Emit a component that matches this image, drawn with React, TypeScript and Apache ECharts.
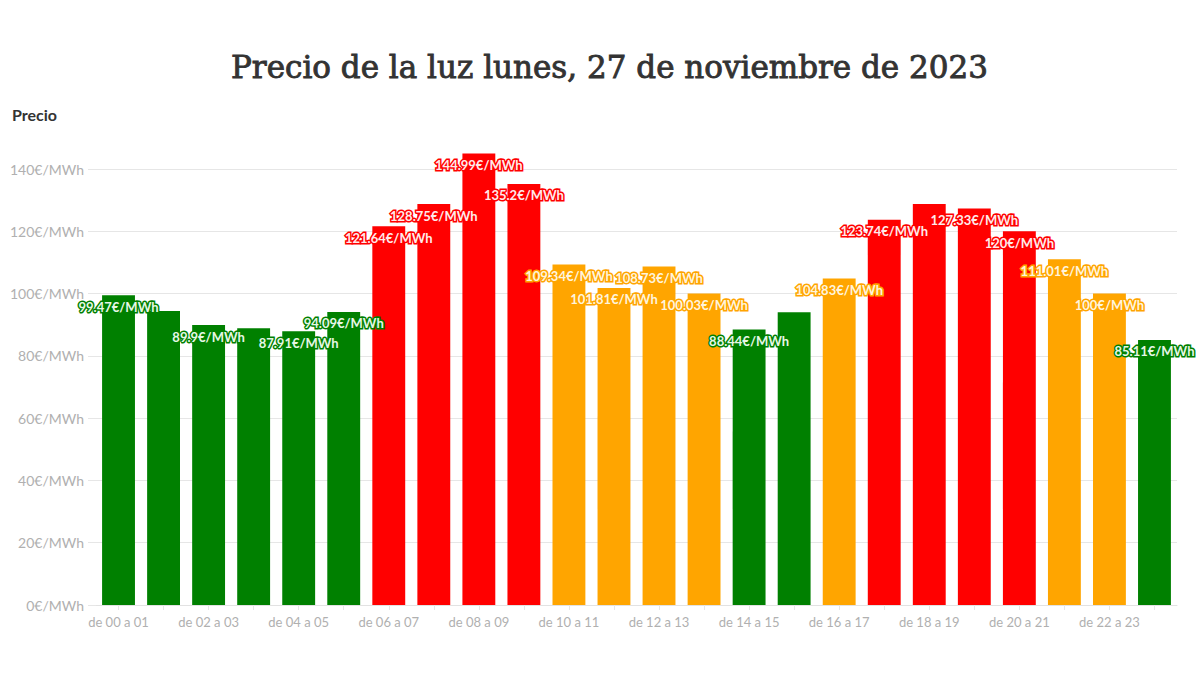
import React, { useEffect, useRef } from "react";
import * as echarts from "echarts";

const titleText = "Precio de la luz lunes, 27 de noviembre de 2023";
const axisTitle = "Precio";

const hours = [
  "de 00 a 01", "de 01 a 02", "de 02 a 03", "de 03 a 04", "de 04 a 05", "de 05 a 06",
  "de 06 a 07", "de 07 a 08", "de 08 a 09", "de 09 a 10", "de 10 a 11", "de 11 a 12",
  "de 12 a 13", "de 13 a 14", "de 14 a 15", "de 15 a 16", "de 16 a 17", "de 17 a 18",
  "de 18 a 19", "de 19 a 20", "de 20 a 21", "de 21 a 22", "de 22 a 23", "de 23 a 24",
];

const prices = [
  99.47, 94.4, 89.9, 88.9, 87.91, 94.09,
  121.64, 128.75, 144.99, 135.2, 109.34, 101.81,
  108.73, 100.03, 88.44, 94.0, 104.83, 123.74,
  128.8, 127.33, 120, 111.01, 100, 85.11,
];

// price level: 0 = low (green), 1 = mid (orange), 2 = high (red)
const levels = [
  0, 0, 0, 0, 0, 0,
  2, 2, 2, 2, 1, 1,
  1, 1, 0, 0, 1, 2,
  2, 2, 2, 1, 1, 0,
];

// labels visible in the reference (others hidden by overlap)
const labelShown = [
  true, false, true, false, true, true,
  true, true, true, true, true, true,
  true, true, true, false, true, true,
  false, true, true, true, true, true,
];

const yMin = 0;
const yMax = 140;
const yStep = 20;

const levelColors = ["#008000", "#ffa500", "#ff0000"];
const levelLabelColors = ["#e6f7e6", "#fff4dc", "#ffeaea"];

export default function App() {
  const ref = useRef<HTMLDivElement>(null);

  useEffect(() => {
    if (!ref.current) return;
    const chart = echarts.init(ref.current, undefined, { renderer: "svg" });
    const data = prices.map((v, i) => ({
      value: v,
      itemStyle: { color: levelColors[levels[i]] },
      label: {
        show: labelShown[i],
        color: levelLabelColors[levels[i]],
        textBorderColor: levelColors[levels[i]],
      },
    }));
    chart.setOption({
      animation: false,
      backgroundColor: "#ffffff",
      title: [
        {
          text: titleText,
          left: 231,
          top: 51,
          padding: 0,
          textStyle: {
            fontFamily: "DejaVu Serif",
            fontSize: 31,
            fontWeight: "normal",
            color: "#333333",
            textBorderColor: "#333333",
            textBorderWidth: 0.9,
          },
        },
        {
          text: axisTitle,
          left: 12,
          top: 106,
          padding: 0,
          textStyle: {
            fontFamily: "Lato",
            fontSize: 16,
            fontWeight: "bold",
            color: "#333333",
          },
        },
      ],
      grid: { left: 96, right: 23, top: 169, bottom: 70, containLabel: false },
      xAxis: {
        type: "category",
        data: hours,
        axisLine: { show: true, lineStyle: { color: "#e2e2e2", width: 1 } },
        axisTick: {
          show: true,
          alignWithLabel: true,
          interval: 0,
          length: 5,
          lineStyle: { color: "#e6e6e6" },
        },
        axisLabel: {
          interval: 1,
          color: "#b0b0b0",
          fontFamily: "Lato",
          fontSize: 13,
          margin: 10,
        },
      },
      yAxis: {
        type: "value",
        min: yMin,
        max: yMax,
        interval: yStep,
        axisLine: { show: false },
        axisTick: { show: true, length: 8, lineStyle: { color: "#e6e6e6" } },
        splitLine: { show: true, lineStyle: { color: "#e6e6e6", width: 1 } },
        axisLabel: {
          color: "#b0b0b0",
          fontFamily: "Lato",
          fontSize: 14,
          margin: 12,
          formatter: (v: number) => `${v}€/MWh`,
        },
      },
      series: [
        {
          type: "bar",
          data,
          clip: false,
          barCategoryGap: "27%",
          label: {
            show: true,
            position: "insideTop",
            distance: 5,
            fontFamily: "Lato",
            fontSize: 13,
            fontWeight: "bold",
            textBorderWidth: 3,
            formatter: (p: any) => `${p.value}€/MWh`,
          },
        },
      ],
    });
    return () => chart.dispose();
  }, []);

  return (
    <div
      ref={ref}
      style={{ position: "fixed", left: 0, top: 0, width: 1200, height: 675 }}
    />
  );
}
